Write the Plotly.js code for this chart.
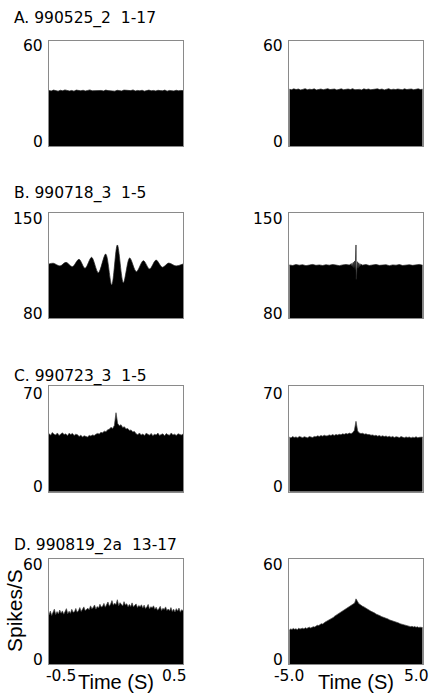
<!DOCTYPE html>
<html>
<head>
<meta charset="utf-8">
<script src="https://cdn.plot.ly/plotly-3.0.1.min.js"></script>
<style>html,body{margin:0;padding:0;background:#fff}#chart{width:438px;height:693px}</style>
</head>
<body>
<div id="chart"></div>
<script>
// ---------- data ----------
const panelTitles = ["A. 990525_2\u00a0\u00a01-17", "B. 990718_3\u00a0\u00a01-5", "C. 990723_3\u00a0\u00a01-5", "D. 990819_2a\u00a0\u00a013-17"];
const yRanges = [[0, 60], [80, 150], [0, 70], [0, 60]];
const yTickLabels = [["0", "60"], ["80", "150"], ["0", "70"], ["0", "60"]];
const xRangeLeft = [-0.5, 0.5];
const xRangeRight = [-5, 5];
const xTickLeft = ["-0.5", "0.5"];
const xTickRight = ["-5.0", "5.0"];
const yTitle = "Spikes/S";
const xTitle = "Time (S)";

// A, left (uniform bins -0.5..0.5)
const yA1 = [31.6,31.3,31.8,31.5,31.2,31.7,31.4,31.9,31.5,31.3,31.6,31.2,31.8,31.5,31.4,31.7,31.3,31.6,31.9,31.4,
  31.5,31.2,31.7,31.6,31.3,31.8,31.5,31.4,31.6,31.2,31.7,31.5,31.3,31.8,31.6,31.4,31.5,31.9,31.3,31.6,
  31.4,31.7,31.2,31.5,31.8,31.4,31.6,31.3,31.7,31.5,31.4,31.8,31.2,31.6,31.5,31.3,31.7,31.4,31.6,31.5];
// A, right (uniform bins -5..5)
const yA2 = [32.3,32.0,32.5,32.1,32.4,31.9,32.2,32.6,32.0,32.3,32.1,32.5,31.9,32.2,32.4,32.0,32.3,32.6,32.1,32.2,
  32.4,31.9,32.3,32.5,32.0,32.2,32.4,32.1,32.6,32.0,32.3,32.2,31.9,32.5,32.1,32.4,32.0,32.3,32.2,32.5,
  32.1,32.4,31.9,32.2,32.6,32.0,32.3,32.1,32.4,32.2,32.0,32.5,32.1,32.3,32.4,32.0,32.2,32.5,32.1,32.3];
// B, left (typed bin centres)
const xB1 = [-0.5,-0.468,-0.418,-0.373,-0.326,-0.276,-0.231,-0.182,-0.132,-0.077,-0.032,0.010,0.055,0.102,0.152,0.204,0.251,0.299,0.346,0.393,0.448,0.5];
const yB1 = [116.0,116.5,114.7,117.1,114.2,119.1,113.1,120.4,110.2,122.6,102.1,128.6,103.6,120.0,110.9,118.2,112.7,118.6,113.8,116.6,114.7,116.0];
// B, right (typed bin centres)
const xB2 = [-5,-4.75,-4.5,-4.25,-4,-3.75,-3.5,-3.25,-3,-2.75,-2.5,-2.25,-2,-1.75,-1.5,-1.25,-1,-0.75,-0.5,
  -0.45,-0.4,-0.35,-0.3,-0.25,-0.2,-0.15,-0.1,-0.05,0,0.02,0.05,0.1,0.15,0.2,0.25,0.3,0.35,0.4,0.45,
  0.5,0.75,1,1.25,1.5,1.75,2,2.25,2.5,2.75,3,3.25,3.5,3.75,4,4.25,4.5,4.75,5];
const yB2 = [115.4,115.0,115.6,115.2,115.5,114.9,115.3,115.7,115.1,115.4,115.0,115.5,115.2,115.6,115.3,114.9,115.4,115.6,115.3,
  115.6,116.0,114.8,116.5,114.3,117.2,113.5,118.0,112.3,128.6,105.8,116.0,117.5,113.2,116.8,114.2,116.2,114.8,115.8,115.2,
  115.3,115.6,115.0,115.4,115.7,115.1,115.3,115.5,114.9,115.4,115.2,115.6,115.0,115.3,115.5,115.1,115.4,115.7,115.2];
// C, left (81 uniform bins)
const yC1 = [38.5,37.4,39.2,38.0,37.6,38.9,37.2,38.4,39.0,37.8,38.3,37.1,38.7,37.9,38.6,37.3,38.1,37.7,
  36.6,37.4,36.3,37.0,36.8,36.2,37.3,36.9,
  37.6,37.2,38.1,38.6,38.2,39.3,39.0,40.1,39.7,41.0,
  41.4,42.6,41.9,43.8,
  52.3,
  45.2,43.6,44.4,
  42.5,43.0,41.6,41.9,40.6,40.9,39.6,39.9,
  38.4,37.7,38.9,37.5,38.2,37.2,38.7,37.9,37.4,38.6,37.1,38.0,37.6,38.8,37.3,37.9,38.3,37.0,38.5,37.7,37.4,38.9,37.6,38.1,37.2,38.4,37.8,37.5,38.2];
// C, right (81 uniform bins)
const yC2 = [36.2,35.6,36.5,35.9,36.3,35.7,36.6,36.0,35.8,36.4,36.1,35.7,36.5,36.2,35.9,36.6,
  36.4,37.0,36.6,37.2,36.8,37.4,36.9,37.1,37.6,37.2,37.8,37.3,37.9,37.5,38.0,
  37.7,38.3,38.0,38.6,38.2,38.8,38.4,39.1,
  40.6,46.6,40.2,
  38.9,38.5,38.7,38.1,38.3,37.8,37.9,37.4,37.6,
  37.1,37.4,36.8,37.2,36.6,37.0,36.5,36.9,36.3,36.7,36.1,36.6,35.9,36.4,36.2,35.8,36.5,36.0,35.7,36.3,35.9,36.2,35.6,36.1,35.8,36.4,35.7,36.0,35.9,36.2];
// D, left (101 uniform bins)
const yD1 = [28.2,30.4,27.9,29.6,31.5,28.4,30.1,28.8,31.0,29.2,
  30.5,28.6,29.9,31.8,28.9,30.3,29.1,31.4,29.7,30.0,
  31.9,29.8,30.6,32.4,30.2,31.3,32.8,30.7,31.6,32.0,
  31.2,33.4,31.8,32.5,33.9,31.5,33.0,32.2,34.3,32.7,
  33.1,34.8,32.6,33.9,35.6,33.2,34.4,36.4,33.8,34.9,
  34.1,36.9,33.5,35.2,34.0,33.3,35.8,33.9,34.6,32.9,
  34.2,33.0,35.1,32.8,33.7,34.5,32.4,33.6,32.9,34.0,
  32.1,33.8,31.9,32.7,34.2,31.6,32.9,32.3,33.4,31.5,
  32.6,30.9,31.8,33.1,30.7,32.0,31.3,32.8,30.8,31.6,
  30.6,32.4,30.2,31.5,29.9,31.8,30.4,32.1,29.8,31.2,
  30.6];
// D, right (101 uniform bins)
const yD2 = [19.6,20.2,19.9,20.5,20.0,20.3,19.8,20.6,20.1,20.4,
  20.6,20.2,20.9,20.5,20.8,21.2,20.7,21.1,21.5,21.3,
  21.8,22.3,22.1,22.7,23.2,23.0,23.8,24.2,24.6,25.0,
  25.6,25.9,26.6,26.8,27.5,28.0,28.3,28.9,29.4,29.6,
  30.3,30.8,31.0,31.7,32.1,32.6,33.0,33.6,34.2,35.0,
  37.4,35.6,34.8,34.2,33.5,33.1,32.8,32.2,31.6,31.3,
  30.9,30.4,30.1,29.6,29.3,28.7,28.5,28.0,27.8,27.3,
  27.1,26.8,26.5,26.1,25.9,25.4,25.2,24.9,24.5,24.4,
  24.1,23.8,23.6,23.2,23.0,22.7,22.6,22.2,22.1,21.8,
  21.9,21.5,21.7,21.3,21.6,21.1,21.4,21.0,21.2,20.9,
  21.0];

// ---------- build ----------
function bins(r, n) { return Array.from({length: n}, (_, i) => r[0] + (r[1] - r[0]) * i / (n - 1)); }

const W = 438, H = 693;
const px = v => v / W, py = v => 1 - v / H;
const colL = [49, 183], colR = [289.3, 422.7];
const rows = [[40.5, 146], [212.7, 318.3], [386, 491.7], [559.3, 664.3]];
const titleY = [18, 193.5, 376, 545.5];
const topLabelY = [45.7, 219.2, 394, 565.3];

const series = [
  {x: bins(xRangeLeft, yA1.length), y: yA1}, {x: bins(xRangeRight, yA2.length), y: yA2},
  {x: xB1, y: yB1, spline: true}, {x: xB2, y: yB2},
  {x: bins(xRangeLeft, yC1.length), y: yC1}, {x: bins(xRangeRight, yC2.length), y: yC2},
  {x: bins(xRangeLeft, yD1.length), y: yD1}, {x: bins(xRangeRight, yD2.length), y: yD2}
];

const font = "DejaVu Sans, sans-serif";
const traces = [];
const layout = {
  width: W, height: H, margin: {l: 0, r: 0, t: 0, b: 0},
  paper_bgcolor: "#fff", plot_bgcolor: "#fff", showlegend: false,
  annotations: []
};

series.forEach((s, k) => {
  const row = Math.floor(k / 2), right = k % 2 === 1;
  const n = k + 1, sx = n === 1 ? "" : n;
  traces.push({
    type: "scatter", mode: "lines", x: s.x, y: s.y, xaxis: "x" + sx, yaxis: "y" + sx,
    fill: "tozeroy", fillcolor: "#000",
    line: {color: row >= 2 ? "#444" : "#222", width: 0.7, shape: s.spline ? "spline" : "linear", smoothing: 0.9},
    hoverinfo: "skip"
  });
  const col = right ? colR : colL;
  const axBase = {showgrid: false, zeroline: false, showticklabels: false, ticks: "",
    showline: true, mirror: true, linecolor: "#8a8a8a", linewidth: 1, fixedrange: true};
  layout["xaxis" + sx] = Object.assign({}, axBase, {
    domain: [px(col[0]), px(col[1])], range: right ? xRangeRight : xRangeLeft, anchor: "y" + sx});
  layout["yaxis" + sx] = Object.assign({}, axBase, {
    domain: [py(rows[row][1]), py(rows[row][0])], range: yRanges[row], anchor: "x" + sx});
  // y tick labels (top and bottom of box)
  const tl = yTickLabels[row];
  layout.annotations.push(
    {xref: "paper", yref: "paper", x: px(col[0] - 5), y: py(topLabelY[row]), xanchor: "right", yanchor: "middle",
     text: tl[1], showarrow: false, borderpad: 0, font: {family: font, size: 15.5, color: "#000"}},
    {xref: "paper", yref: "paper", x: px(col[0] - 5), y: py(rows[row][1] - 4.5), xanchor: "right", yanchor: "middle",
     text: tl[0], showarrow: false, borderpad: 0, font: {family: font, size: 15.5, color: "#000"}}
  );
});

// panel titles
panelTitles.forEach((t, r) => {
  layout.annotations.push({xref: "paper", yref: "paper", x: px(12.5), y: py(titleY[r]), xanchor: "left", yanchor: "middle",
    text: t, showarrow: false, borderpad: 0, font: {family: font, size: 15.5, color: "#000"}});
});

// bottom x tick labels and titles
const tickY = 676;
[[61, xTickLeft[0]], [174.5, xTickLeft[1]], [288.5, xTickRight[0]], [416.7, xTickRight[1]]].forEach(([x, t]) => {
  layout.annotations.push({xref: "paper", yref: "paper", x: px(x), y: py(tickY), xanchor: "center", yanchor: "middle",
    text: t, showarrow: false, borderpad: 0, font: {family: font, size: 15.5, color: "#000"}});
});
[116, 356].forEach(x => {
  layout.annotations.push({xref: "paper", yref: "paper", x: px(x), y: py(682), xanchor: "center", yanchor: "middle",
    text: xTitle, showarrow: false, borderpad: 0, font: {family: "Liberation Sans, Arial, sans-serif", size: 20, color: "#000"}});
});
layout.annotations.push({xref: "paper", yref: "paper", x: px(14), y: py(611), xanchor: "center", yanchor: "middle",
  text: yTitle, textangle: -90, showarrow: false, borderpad: 0, font: {family: "Liberation Sans, Arial, sans-serif", size: 21, color: "#000"}});

Plotly.newPlot("chart", traces, layout, {displayModeBar: false, staticPlot: true});
</script>
</body>
</html>
